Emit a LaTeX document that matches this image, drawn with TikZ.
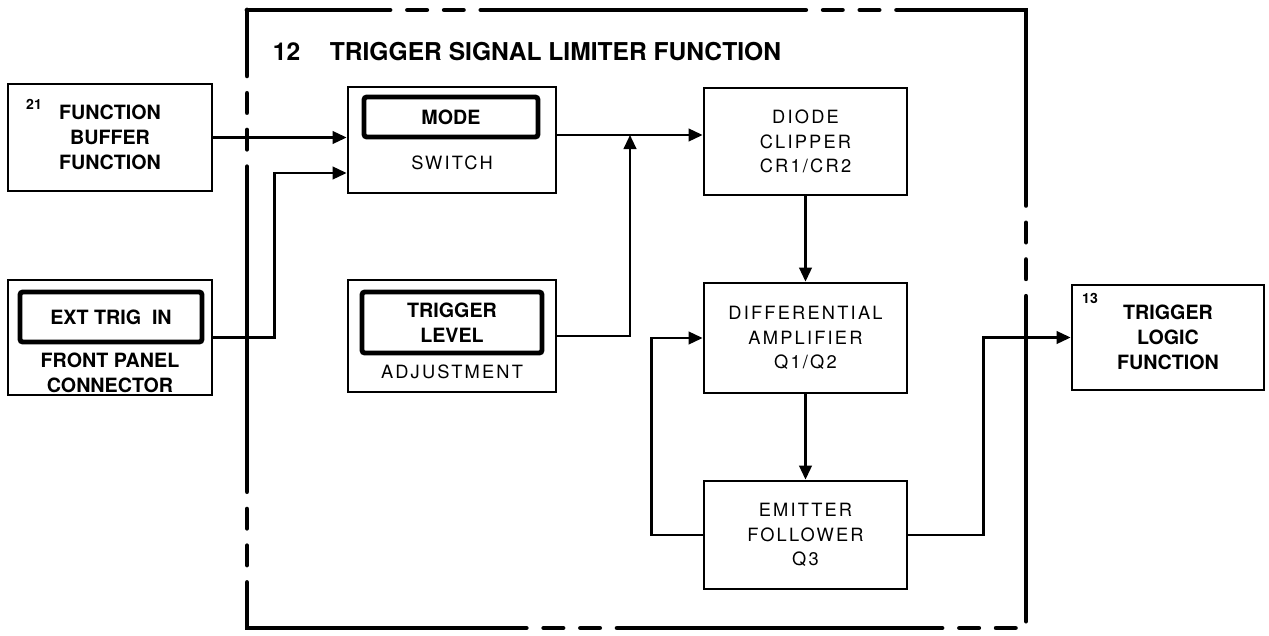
\documentclass[tikz,border=0pt]{standalone}
\usepackage{fontspec}
\setmainfont{TeX Gyre Heros}
\newfontfamily\lightfont[LetterSpace=12]{TeX Gyre Heros}
\usetikzlibrary{arrows.meta}

\begin{document}
\begin{tikzpicture}[
    every node/.style={font=\fontsize{14}{17.8}\selectfont\bfseries},
    block/.style={draw, line width=2pt, align=center, inner sep=0pt},
    panel/.style={draw, line width=3.5pt, rounded corners=2pt, align=center, inner sep=0pt},
    lighttext/.style={font=\fontsize{13}{17.5}\selectfont\lightfont, align=center},
    number/.style={font=\fontsize{10}{12}\selectfont\bfseries},
    wire/.style={line width=1.6pt},
    flow/.style={wire, -{Triangle[length=10pt, width=9pt]}},
    boundary/.style={line width=3.5pt, line cap=round,
        dash pattern=on 231pt off 12.5pt on 13.6pt off 12.5pt on 13.6pt off 12.5pt,
        dash phase=129.3pt}
]
\useasboundingbox (0,0) rectangle (31.725,-15.875);

% Function 12 frame
\draw[boundary] (6.175,-0.25) -- (25.65,-0.25) -- (25.65,-15.7) -- (6.175,-15.7) -- cycle;
\node[anchor=west, font=\fontsize{17.5}{20}\selectfont\bfseries] (title12) at (6.7,-1.3) {12\hspace{21pt}TRIGGER SIGNAL LIMITER FUNCTION};

% Inputs
\node[block, minimum width=5.1cm, minimum height=2.675cm] (buffer) at (2.75,-3.4375) {FUNCTION\\BUFFER\\FUNCTION};
\node[number] (buffer-num) at (0.85,-2.6) {21};

\node[block, minimum width=5.1cm, minimum height=2.875cm] (exttrig) at (2.75,-8.4375) {};
\node[panel, minimum width=4.55cm, minimum height=1.25cm] (exttrig-panel) at (2.775,-7.925) {EXT TRIG\ \ IN};
\node[align=center] (exttrig-label) at (2.75,-9.3125) {FRONT PANEL\\CONNECTOR};

% Mode switch and level adjustment
\node[block, minimum width=5.2cm, minimum height=2.65cm] (switch) at (11.3,-3.5) {};
\node[panel, minimum width=4.35cm, minimum height=1.0cm] (switch-panel) at (11.275,-2.925) {MODE};
\node[lighttext] (switch-label) at (11.3,-4.075) {SWITCH};

\node[block, minimum width=5.2cm, minimum height=2.8cm] (level) at (11.3,-8.4) {};
\node[panel, minimum width=4.5cm, minimum height=1.525cm] (level-panel) at (11.3,-8.0625) {TRIGGER\\LEVEL};
\node[lighttext] (level-label) at (11.3,-9.3) {ADJUSTMENT};

% Limiter chain
\node[block, lighttext, minimum width=5.075cm, minimum height=2.675cm] (diode) at (20.1375,-3.5375) {DIODE\\CLIPPER\\CR1/CR2};
\node[block, lighttext, minimum width=5.075cm, minimum height=2.75cm] (diff) at (20.1375,-8.45) {DIFFERENTIAL\\AMPLIFIER\\Q1/Q2};
\node[block, lighttext, minimum width=5.075cm, minimum height=2.7cm] (emitter) at (20.1375,-13.375) {EMITTER\\FOLLOWER\\Q3};

% Output
\node[block, minimum width=4.8cm, minimum height=2.625cm] (logic) at (29.2,-8.4375) {TRIGGER\\LOGIC\\FUNCTION};
\node[number] (logic-num) at (27.25,-7.45) {13};

% Connectors
\coordinate (sw-out) at ([yshift=0.125cm]switch.east);
\coordinate (level-join) at (15.75,-3.375);
\draw[flow] (buffer.east) -- (buffer.east -| switch.west);
\draw[flow] (exttrig.east) -- ++(1.525,0) |- ([yshift=-0.825cm]switch.west);
\draw[flow] (sw-out) -- (sw-out -| diode.west);
\draw[flow] (level.east) -| (level-join);
\draw[flow] (diode) -- (diff);
\draw[flow] (diff) -- (emitter);
\draw[flow] (emitter.west) -- ++(-1.275,0) |- (diff.west);
\draw[flow] (emitter.east) -- ++(1.875,0) |- (logic.west);

\end{tikzpicture}
\end{document}
